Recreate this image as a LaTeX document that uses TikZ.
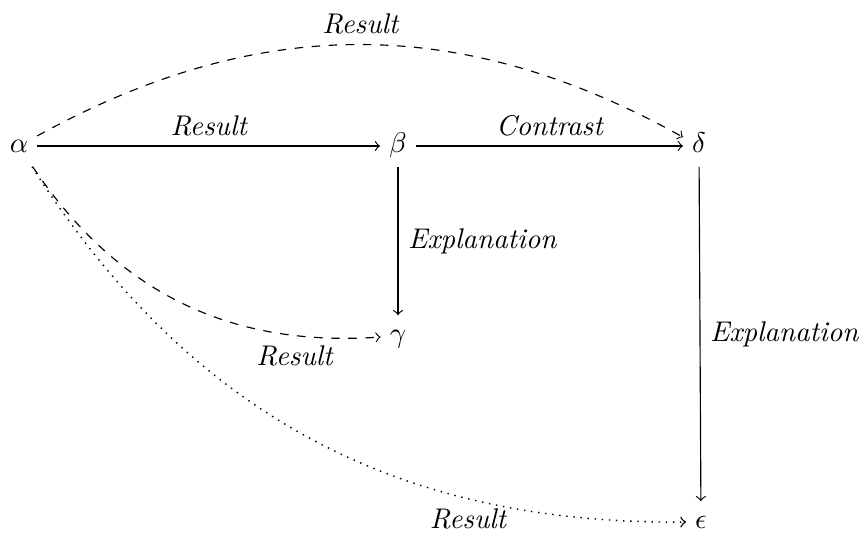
\documentclass[tikz,border=0pt]{standalone}
\begin{document}
\begin{tikzpicture}[x=0.351pt,y=-0.351pt,
  obj/.style={inner sep=3pt, text height=1.5ex, text depth=0.4ex},
  lbl/.style={font=\itshape},
  arr/.style={->}]
\useasboundingbox (0,0) rectangle (864,539);
\node[obj] (a) at (19,146) {$\alpha$};
\node[obj] (b) at (398,146) {$\beta$};
\node[obj] (d) at (699,146) {$\delta$};
\node[obj] (g) at (398,336) {$\gamma$};
\node[obj] (e) at (701,522) {$\epsilon$};
\draw[arr] (a) -- node[above,lbl]{Result} (b);
\draw[arr] (b) -- node[above,lbl]{Contrast} (d);
\draw[arr] (b) -- node[right,lbl]{Explanation} (g);
\draw[arr] (d) -- node[right,lbl]{Explanation} (e);
\draw[arr,dashed] (a) to[bend left=29] node[above,lbl]{Result} (d);
\draw[arr,dashed] (a) to[bend right=30] node[below,lbl,pos=0.8]{Result} (g);
\draw[arr,dotted,line width=0.5pt] (a) to[bend right=29] node[below,lbl,pos=0.73]{Result} (e);
\end{tikzpicture}
\end{document}
